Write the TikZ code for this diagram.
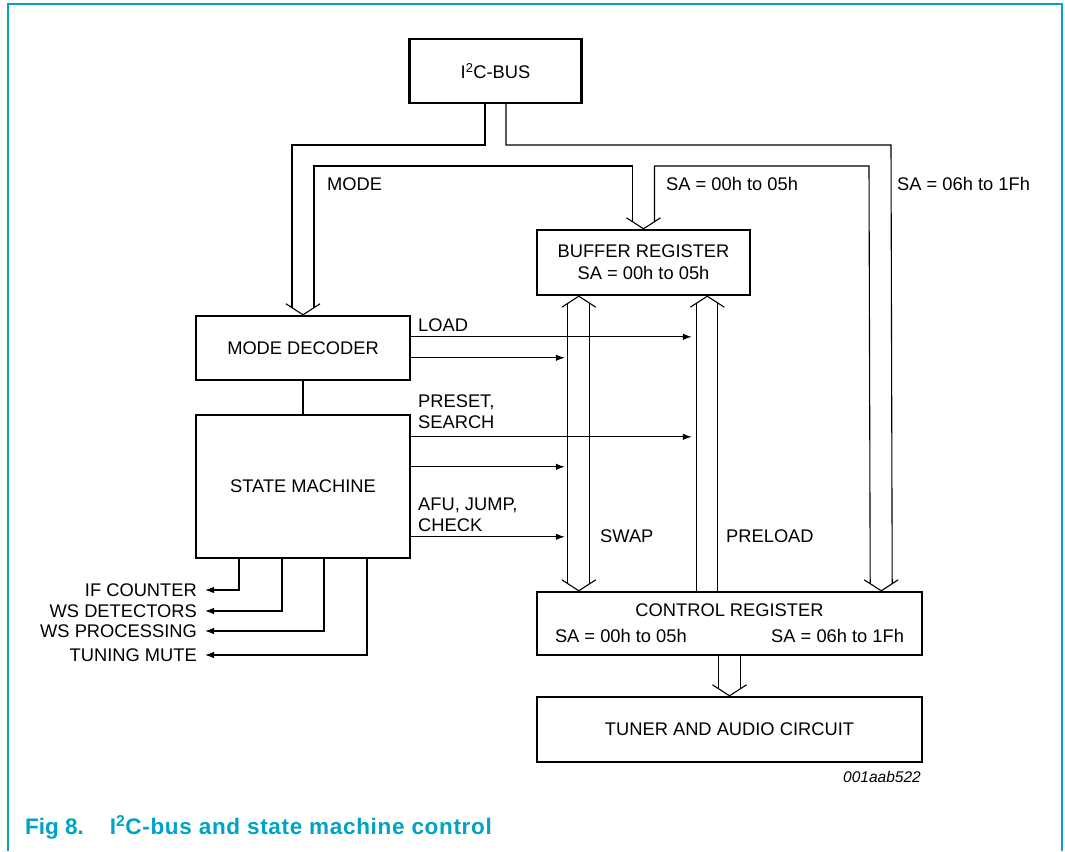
\documentclass[tikz,border=0pt]{standalone}
\usepackage{fontspec}
\setmainfont{Liberation Sans}
\usetikzlibrary{arrows.meta, positioning, calc}
\definecolor{figcyan}{RGB}{0,163,196}

\begin{document}
\begin{tikzpicture}[x=1pt, y=-1pt,
  box/.style={rectangle, draw, line width=2.4pt, align=center,
    font=\fontsize{18.3}{22}\selectfont, inner sep=0pt},
  bus/.style={line width=1.1pt},
  sig/.style={-{Latex[length=9pt,width=6.5pt]}, line width=1.1pt},
  lbl/.style={font=\fontsize{18.3}{21}\selectfont, inner sep=0pt},
  vhead/.pic={\draw[bus] (-17,-11) -- (0,0) -- (17,-11);}
]
  \useasboundingbox (0,0) rectangle (1065,851);
  \draw[figcyan, line width=1.6pt] (8,851) -- (8,4) -- (1062,4) -- (1062,851);

  % blocks
  \node[box, minimum width=172, minimum height=64] (bus) at (495.5,71) {I\textsuperscript{2}C-BUS};
  \node[box, minimum width=213, minimum height=65] (buffer) at (643.5,262.5) {BUFFER REGISTER\\SA = 00h to 05h};
  \node[box, minimum width=214, minimum height=64] (mode) at (303,348) {MODE DECODER};
  \node[box, minimum width=214, minimum height=143] (state) at (303,486.5) {STATE MACHINE};
  \node[box, minimum width=385, minimum height=63] (control) at (729.5,623.5) {};
  \node[lbl, anchor=center] (ctitle) at ($(control.center)+(0,-13)$) {CONTROL REGISTER};
  \node[lbl, anchor=west] (csa1) at ($(control.west)+(19,12)$) {SA = 00h to 05h};
  \node[lbl, anchor=east] (csa2) at ($(control.east)+(-19,12)$) {SA = 06h to 1Fh};
  \node[box, minimum width=385, minimum height=65] (tuner) at (729.5,729.5) {TUNER AND AUDIO CIRCUIT};

  \coordinate (ctip) at ($(control.north east)+(-42,0)$);
  \coordinate (swtop) at ($(buffer.south west)+(43,0)$);
  \coordinate (swbot) at ($(control.north west)+(43,0)$);
  \coordinate (pltop) at ($(buffer.south west)+(171.5,0)$);
  \coordinate (plbot) at ($(control.north west)+(171.5,0)$);
  \coordinate (swL) at ($(swtop)+(-14,0)$);
  \coordinate (plL) at ($(pltop)+(-15.5,0)$);

  % I2C bus
  \draw[bus] ([xshift=-10.5pt]bus.south) |- (292,145) -- ($(mode.north)+(-11,-7)$);
  \draw[bus] ($(mode.north)+(11,-7)$) |- (632.5,166) -- ($(buffer.north)+(-11,-7)$);
  \draw[bus] ($(buffer.north)+(11,-7)$) |- (869,166) -- ($(ctip)+(-11,-7)$);
  \draw[bus] ([xshift=10.5pt]bus.south) |- (891,145) -- ($(ctip)+(11,-7)$);
  \pic at (mode.north) {vhead};
  \pic at (buffer.north) {vhead};
  \pic at (ctip) {vhead};

  % swap and preload
  \draw[bus] ($(swtop)+(-11,7)$) -- ($(swbot)+(-11,-7)$);
  \draw[bus] ($(swtop)+(11,7)$) -- ($(swbot)+(11,-7)$);
  \pic[rotate=180] at (swtop) {vhead};
  \pic at (swbot) {vhead};
  \draw[bus] ($(pltop)+(-10.5,7)$) -- ($(plbot)+(-10.5,0)$);
  \draw[bus] ($(pltop)+(10.5,7)$) -- ($(plbot)+(10.5,0)$);
  \pic[rotate=180] at (pltop) {vhead};

  % control to tuner
  \draw[bus] ([xshift=-11pt]control.south) -- ($(tuner.north)+(-11,-7)$);
  \draw[bus] ([xshift=11pt]control.south) -- ($(tuner.north)+(11,-7)$);
  \pic at (tuner.north) {vhead};

  % control signals
  \draw[line width=1.1pt] (mode.south) -- (state.north);
  \foreach \src/\dy/\dst in {mode/22/plL, mode/43/swL, state/23/plL, state/53/swL, state/123/swL}
    \draw[sig] ([yshift=-\dy pt]\src.north east) coordinate (s) -- (s -| \dst);

  \node[lbl, anchor=base west] (loadlbl) at (418,331) {LOAD};
  \node[lbl, anchor=base west, align=left] (preslbl) at (418,428) {PRESET,\\SEARCH};
  \node[lbl, anchor=base west, align=left] (afulbl) at (418,531) {AFU, JUMP,\\CHECK};
  \node[lbl, anchor=base west] (swaplbl) at (600,542) {SWAP};
  \node[lbl, anchor=base west] (prelbl) at (726,542) {PRELOAD};
  \node[lbl, anchor=base west] (modelbl) at (327,190) {MODE};
  \node[lbl, anchor=base west] (sa1lbl) at (666,190) {SA = 00h to 05h};
  \node[lbl, anchor=base west] (sa2lbl) at (897,190) {SA = 06h to 1Fh};

  % outputs of the state machine
  \foreach \dx/\yy/\txt/\nm in {-64/590/IF COUNTER/ifc, -21/611/WS DETECTORS/wsd,
      21/631/WS PROCESSING/wsp, 64/655/TUNING MUTE/tmu} {
    \node[lbl, anchor=east] (\nm) at (197,\yy) {\txt};
    \draw[sig] ([xshift=\dx pt]state.south) |- ([xshift=8pt]\nm.east);
  }

  \node[anchor=base east, inner sep=0pt, font=\fontsize{15.5}{18}\selectfont\itshape] (figcode) at (921,782) {001aab522};
  \node[anchor=base west, inner sep=0pt, text=figcyan, font=\fontsize{22.5}{26}\selectfont\bfseries] (caption) at (25,834)
    {Fig 8.\hspace{26pt}{\addfontfeature{LetterSpace=3}I\textsuperscript{2}C-bus and state machine control}};
\end{tikzpicture}
\end{document}
